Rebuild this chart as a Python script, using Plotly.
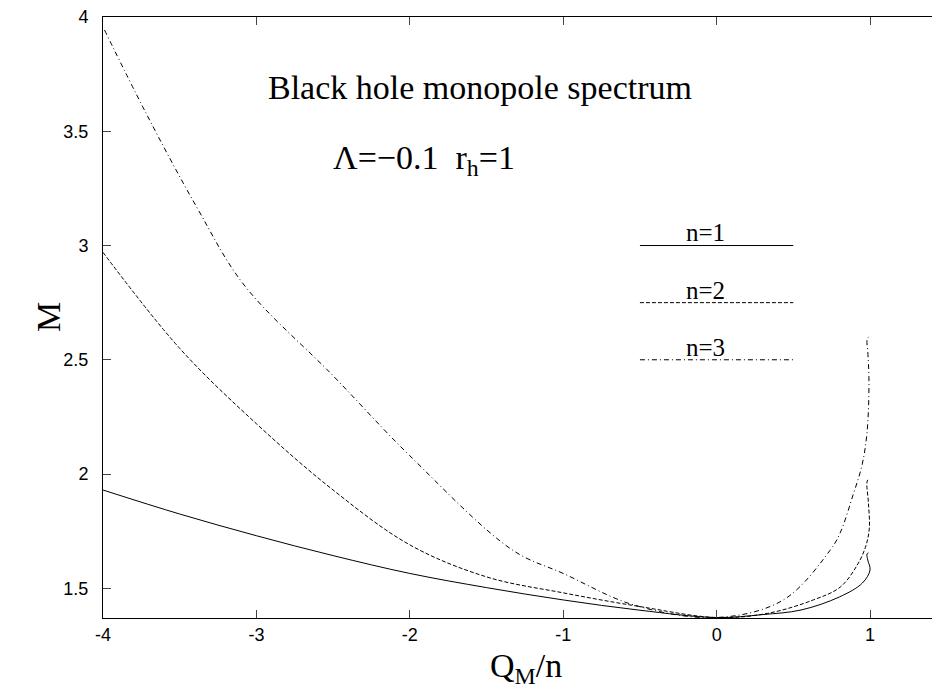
import plotly.graph_objects as go

# n=1 (solid), left branch and right branch
n1_x = [-4.0, -3.5, -3.0, -2.5, -2.0, -1.5, -1.0, -0.5, 0.0,
        0.3, 0.55, 0.8, 0.95, 1.0, 0.985, 0.98, 0.99]
n1_m = [1.93, 1.825, 1.73, 1.643, 1.565, 1.503, 1.449, 1.404, 1.372,
        1.385, 1.405, 1.462, 1.523, 1.58, 1.624, 1.65, 1.655]

# n=2 (dashed)
n2_x = [-4.0, -3.5, -3.0, -2.5, -2.0, -1.5, -1.0, -0.5, 0.0,
        0.33, 0.63, 0.805, 0.915, 0.97, 0.995, 0.99, 0.98, 0.99]
n2_m = [2.97, 2.55, 2.22, 1.93, 1.69, 1.55, 1.48, 1.42, 1.372,
        1.39, 1.449, 1.505, 1.60, 1.68, 1.76, 1.87, 1.965, 1.98]

# n=3 (dash-dot)
n3_x = [-3.99, -3.72, -3.39, -3.08, -2.5, -2.0, -1.33, -1.0, -0.54, 0.0,
        0.435, 0.74, 0.805, 0.89, 0.948, 0.98, 0.993, 0.985, 0.98, 0.99]
n3_m = [3.943, 3.58, 3.169, 2.827, 2.43, 2.08, 1.667, 1.565, 1.427, 1.372,
        1.449, 1.667, 1.742, 1.91, 2.04, 2.18, 2.40, 2.54, 2.585, 2.60]

x_ticks = [-4, -3, -2, -1, 0, 1]
x_tick_text = ["-4", "-3", "-2", "-1", "0", "1"]
m_ticks = [1.5, 2, 2.5, 3, 3.5, 4]
m_tick_text = ["1.5", "2", "2.5", "3", "3.5", "4"]

# key samples drawn inside the plot
key_x = [-0.5, 0.5]
key_m = [3.0, 2.75, 2.5]
key_labels = ["n=1", "n=2", "n=3"]
key_dash = ["solid", "4px,2px", "5px,3px,1px,3px"]

serif = "Liberation Serif, Times New Roman, serif"
sans = "Liberation Sans, Arial, Helvetica, sans-serif"

fig = go.Figure()
for xs, ms, d in [(n1_x, n1_m, key_dash[0]), (n2_x, n2_m, key_dash[1]), (n3_x, n3_m, key_dash[2])]:
    fig.add_trace(go.Scatter(x=xs, y=ms, mode="lines",
                             line=dict(color="black", width=1, dash=d, shape="spline", smoothing=1),
                             showlegend=False))

for m, lab, d in zip(key_m, key_labels, key_dash):
    fig.add_trace(go.Scatter(x=key_x, y=[m, m], mode="lines",
                             line=dict(color="black", width=1, dash=d), showlegend=False))
    fig.add_annotation(x=-0.07, y=m + 0.055, text=lab, showarrow=False,
                       xanchor="center", yanchor="middle",
                       font=dict(family=serif, size=25, color="black"))

fig.add_annotation(x=-1.54, y=3.69, text="Black hole monopole spectrum", showarrow=False,
                   font=dict(family=serif, size=34, color="black"))
fig.add_annotation(x=-1.905, y=3.374, text="Λ=−0.1  r<sub>h</sub>=1", showarrow=False,
                   font=dict(family=serif, size=34, color="black"))

# axis titles
fig.add_annotation(xref="paper", yref="paper", x=-0.0895, y=0.5, text="M", textangle=-90,
                   showarrow=False, font=dict(family=serif, size=34, color="black"))
fig.add_annotation(xref="paper", yref="paper", x=0.505, y=-0.084, text="Q<sub>M</sub>/n",
                   showarrow=False, yanchor="middle", font=dict(family=serif, size=34, color="black"))

fig.update_xaxes(range=[-4, 1.456], tickvals=x_ticks, ticktext=x_tick_text,
                 ticks="inside", ticklen=8, automargin=False, ticklabeloverflow="allow",
                 showline=True, linecolor="black", linewidth=1, mirror="ticks",
                 showgrid=False, zeroline=False, tickfont=dict(family=sans, size=18, color="black"))
fig.update_yaxes(range=[1.37, 4.0], tickvals=m_ticks, ticktext=m_tick_text,
                 ticks="inside", ticklen=8, automargin=False, ticklabelstandoff=10,
                 ticklabeloverflow="allow",
                 showline=True, linecolor="black", linewidth=1,
                 showgrid=False, zeroline=False, tickfont=dict(family=sans, size=18, color="black"))
# the page body keeps an 8px margin, so the figure is 8px smaller and shifted
fig.update_layout(width=932, height=677, margin=dict(l=95, r=0, t=9, b=67),
                  plot_bgcolor="white", paper_bgcolor="white", showlegend=False)
fig.write_html("out.html")
